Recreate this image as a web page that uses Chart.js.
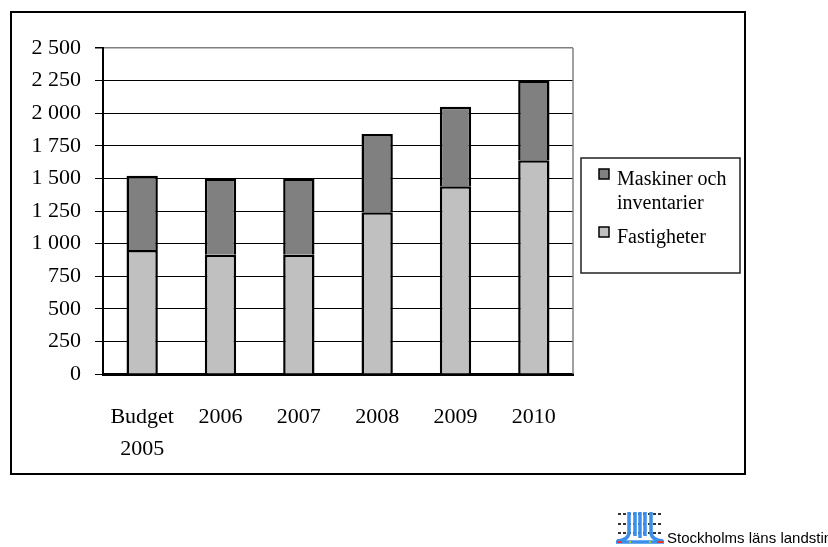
<!DOCTYPE html>
<html>
<head>
<meta charset="utf-8">
<script src="https://cdn.jsdelivr.net/npm/chart.js@4/dist/chart.umd.min.js"></script>
<style>
    html, body { margin: 0; padding: 0; background: #fff; overflow: hidden; }
    #wrap { position: relative; width: 828px; height: 547px; overflow: hidden; }
    #logo { position: absolute; left: 616px; top: 512px; }
    #org { position: absolute; left: 667px; top: 529px; font: 15px "Liberation Sans", Arial, sans-serif; color: #000; white-space: nowrap; }
</style>
</head>
<body>
<div id="wrap">
    <canvas id="investChart" width="828" height="547"></canvas>
    <svg id="logo" width="48" height="33" viewBox="0 0 48 33">
        <g stroke="#333" stroke-width="2" stroke-dasharray="3 2">
            <line x1="2" y1="2" x2="47" y2="2"/>
            <line x1="2" y1="12" x2="47" y2="12"/>
            <line x1="2" y1="21" x2="47" y2="21"/>
        </g>
        <g stroke="#3b8fe8" stroke-width="3.5" fill="none">
            <path d="M13 0 V20 Q13 28 1 29"/>
            <path d="M19 0 V24"/>
            <path d="M24 0 V26"/>
            <path d="M29 0 V24"/>
            <path d="M35 0 V20 Q35 28 47 29"/>
            <line x1="0" y1="30" x2="48" y2="30"/>
        </g>
        <g stroke="#e33" stroke-width="2">
            <line x1="1" y1="30" x2="6" y2="30"/>
            <line x1="41" y1="30" x2="47" y2="30"/>
        </g>
        <circle cx="14" cy="30" r="1.2" fill="#9c3"/>
        <circle cx="34" cy="30" r="1.2" fill="#9c3"/>
    </svg>
    <span id="org">Stockholms läns landsting</span>
</div>
<script>
const categories = [["Budget", "2005"], "2006", "2007", "2008", "2009", "2010"];
const fastigheter = [950, 915, 915, 1240, 1440, 1640];
const maskiner = [570, 585, 585, 600, 610, 610];
const seriesNames = ["Fastigheter", "Maskiner och inventarier"];
const yMin = 0;
const yMax = 2500;
const yStep = 250;

const serif = "'Liberation Serif', 'Times New Roman', serif";

// frame, plot border and the boxed legend on the right
const decorations = {
    id: "decorations",
    afterDraw(chart) {
        const ctx = chart.ctx;
        const area = chart.chartArea;
        ctx.save();

        ctx.strokeStyle = "#808080";
        ctx.lineWidth = 1.5;
        ctx.beginPath();
        ctx.moveTo(area.right, area.top);
        ctx.lineTo(area.right, area.bottom);
        ctx.stroke();

        ctx.strokeStyle = "#000";
        ctx.lineWidth = 2;
        ctx.strokeRect(11, 12, 734, 462);

        ctx.strokeStyle = "#222";
        ctx.lineWidth = 1.5;
        ctx.strokeRect(581, 158, 159, 115);

        ctx.font = "20px " + serif;
        ctx.textBaseline = "alphabetic";
        const items = chart.data.datasets.slice().reverse();
        let y = 185;
        items.forEach(function(ds) {
            ctx.fillStyle = ds.backgroundColor;
            ctx.fillRect(599, y - 16, 10, 10);
            ctx.strokeStyle = "#000";
            ctx.lineWidth = 1.5;
            ctx.strokeRect(599, y - 16, 10, 10);

            ctx.fillStyle = "#000";
            const words = ds.label.split(" ");
            let line = "";
            const lines = [];
            words.forEach(function(w) {
                const test = line ? line + " " + w : w;
                if (ctx.measureText(test).width > 115 && line) {
                    lines.push(line);
                    line = w;
                } else {
                    line = test;
                }
            });
            lines.push(line);
            lines.forEach(function(l, i) {
                ctx.fillText(l, 617, y + i * 24);
            });
            y += lines.length * 24 + 10;
        });
        ctx.restore();
    }
};

const ctx = document.getElementById("investChart").getContext("2d");
new Chart(ctx, {
    type: "bar",
    data: {
        labels: categories,
        datasets: [
            {
                label: seriesNames[0],
                data: fastigheter,
                backgroundColor: "#c0c0c0",
                borderColor: "#000",
                borderWidth: 2.5
            },
            {
                label: seriesNames[1],
                data: maskiner,
                backgroundColor: "#808080",
                borderColor: "#000",
                borderWidth: 2.5
            }
        ]
    },
    options: {
        responsive: false,
        animation: false,
        barPercentage: 0.4,
        categoryPercentage: 1.0,
        layout: { padding: { top: 48, right: 255, left: 0, bottom: 0 } },
        plugins: {
            legend: { display: false },
            tooltip: { enabled: false }
        },
        scales: {
            x: {
                stacked: true,
                grid: { display: false, drawTicks: false },
                border: { display: true, color: "#000", width: 3 },
                ticks: {
                    color: "#000",
                    padding: 27,
                    font: { family: serif, size: 22, lineHeight: 1.45 }
                },
                afterFit(scale) { scale.height = 173; }
            },
            y: {
                stacked: true,
                min: yMin,
                max: yMax,
                grid: {
                    color: function(c) { return c.tick && c.tick.value === yMax ? "#808080" : "#000"; },
                    lineWidth: function(c) { return c.tick && c.tick.value === yMax ? 1.5 : 1; },
                    tickColor: "#000",
                    tickLength: 8
                },
                border: { display: true, color: "#000", width: 2 },
                ticks: {
                    stepSize: yStep,
                    color: "#000",
                    padding: 14,
                    font: { family: serif, size: 22 },
                    callback: function(v) {
                        if (v >= 1000) {
                            const rest = String(v % 1000).padStart(3, "0");
                            return Math.floor(v / 1000) + " " + rest;
                        }
                        return String(v);
                    }
                },
                afterFit(scale) { scale.width = 103; }
            }
        }
    },
    plugins: [decorations]
});
</script>
</body>
</html>
